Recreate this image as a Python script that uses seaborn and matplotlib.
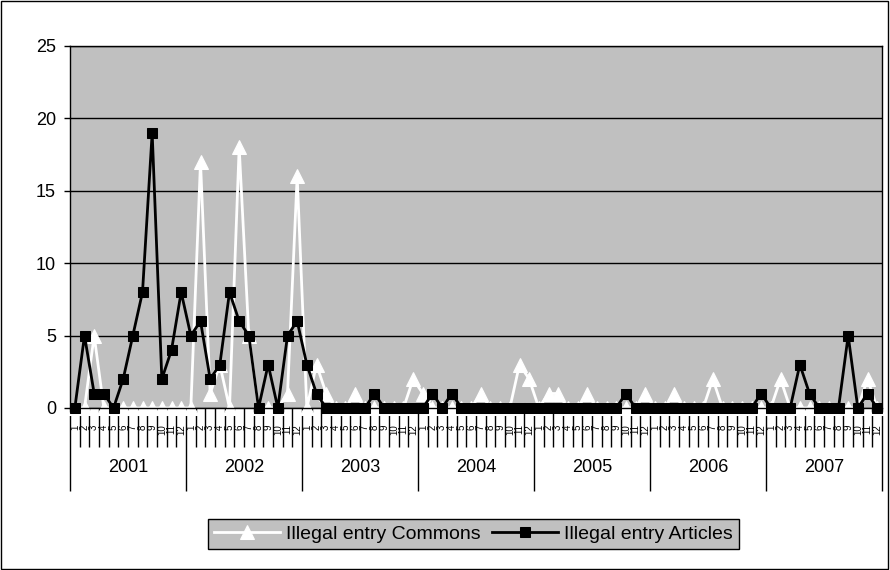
import numpy as np
import pandas as pd
import seaborn as sb
from matplotlib import pyplot as plt
from matplotlib.patches import Rectangle

plt.rcParams['font.family'] = ['Liberation Sans', 'DejaVu Sans']

years = ['2001', '2002', '2003', '2004', '2005', '2006', '2007']
months = [str(m) for m in range(1, 13)]

# monthly counts, Jan 2001 .. Dec 2007
commons = [0, 0, 5, 0, 0, 0, 0, 0, 0, 0, 0, 0,
           0, 17, 1, 3, 0, 18, 5, 0, 0, 0, 1, 16,
           0, 3, 1, 0, 0, 1, 0, 0, 0, 0, 0, 2,
           1, 0, 0, 0, 0, 0, 1, 0, 0, 0, 3, 2,
           0, 1, 1, 0, 0, 1, 0, 0, 0, 0, 0, 1,
           0, 0, 1, 0, 0, 0, 2, 0, 0, 0, 0, 0,
           0, 2, 0, 0, 0, 0, 0, 0, 0, 0, 2, 0]
articles = [0, 5, 1, 1, 0, 2, 5, 8, 19, 2, 4, 8,
            5, 6, 2, 3, 8, 6, 5, 0, 3, 0, 5, 6,
            3, 1, 0, 0, 0, 0, 0, 1, 0, 0, 0, 0,
            0, 1, 0, 1, 0, 0, 0, 0, 0, 0, 0, 0,
            0, 0, 0, 0, 0, 0, 0, 0, 0, 1, 0, 0,
            0, 0, 0, 0, 0, 0, 0, 0, 0, 0, 0, 1,
            0, 0, 0, 3, 1, 0, 0, 0, 5, 0, 1, 0]

n = len(commons)
df = pd.DataFrame({'idx': np.arange(n), 'commons': commons, 'articles': articles})

fig = plt.figure(figsize=(8.9, 5.7), dpi=100)
ax = fig.add_axes([70/890, (570-408)/570, 812/890, 362/570])
ax.set_facecolor('#C0C0C0')

sb.lineplot(data=df, x='idx', y='commons', color='white', lw=2, marker='^',
            markersize=10, markeredgecolor='white', clip_on=False, ax=ax,
            label='Illegal entry Commons')
sb.lineplot(data=df, x='idx', y='articles', color='black', lw=2, marker='s',
            markersize=7.5, markeredgecolor='black', clip_on=False, ax=ax,
            label='Illegal entry Articles')

ax.set_xlim(-0.5, n - 0.5)
ax.set_ylim(0, 25)
ax.set_yticks(range(0, 26, 5))
ax.yaxis.grid(True, color='black', lw=1)
ax.set_axisbelow(True)
ax.tick_params(axis='y', direction='out', length=4, width=1, labelsize=13, pad=6)
for s in ax.spines.values():
    s.set_color('black')
    s.set_linewidth(1)

# category axis: year boundaries (long) and month boundaries (short)
ax.set_xticks(np.arange(-0.5, n, 12))
ax.set_xticks(np.arange(-0.5, n, 1), minor=True)
ax.tick_params(axis='x', which='major', direction='out', length=60, width=1,
               labelbottom=False)
ax.tick_params(axis='x', which='minor', direction='out', length=28, width=1)
ax.set_xlabel('')
ax.set_ylabel('')

trans = ax.get_xaxis_transform()
for i in range(n):
    ax.text(i, -0.045, months[i % 12], transform=trans, rotation=90,
            ha='center', va='top', fontsize=7)
for k, y in enumerate(years):
    ax.text(k*12 + 5.5, -0.165, y, transform=trans, ha='center', va='center',
            fontsize=13)

ax.get_legend().remove()
h, l = ax.get_legend_handles_labels()
leg = fig.legend(h, l, loc='center', bbox_to_anchor=(0.532, 0.063), ncol=2,
                 fontsize=14, frameon=True, fancybox=False, framealpha=1,
                 facecolor='#C0C0C0', edgecolor='black', handlelength=3.4,
                 handletextpad=0.3, columnspacing=0.6, borderpad=0.3)
leg.get_frame().set_linewidth(1)

fig.add_artist(Rectangle((0.001, 0.001), 0.997, 0.997, transform=fig.transFigure,
                         fill=False, edgecolor='black', lw=1))

plt.savefig('out.png', dpi=100)
